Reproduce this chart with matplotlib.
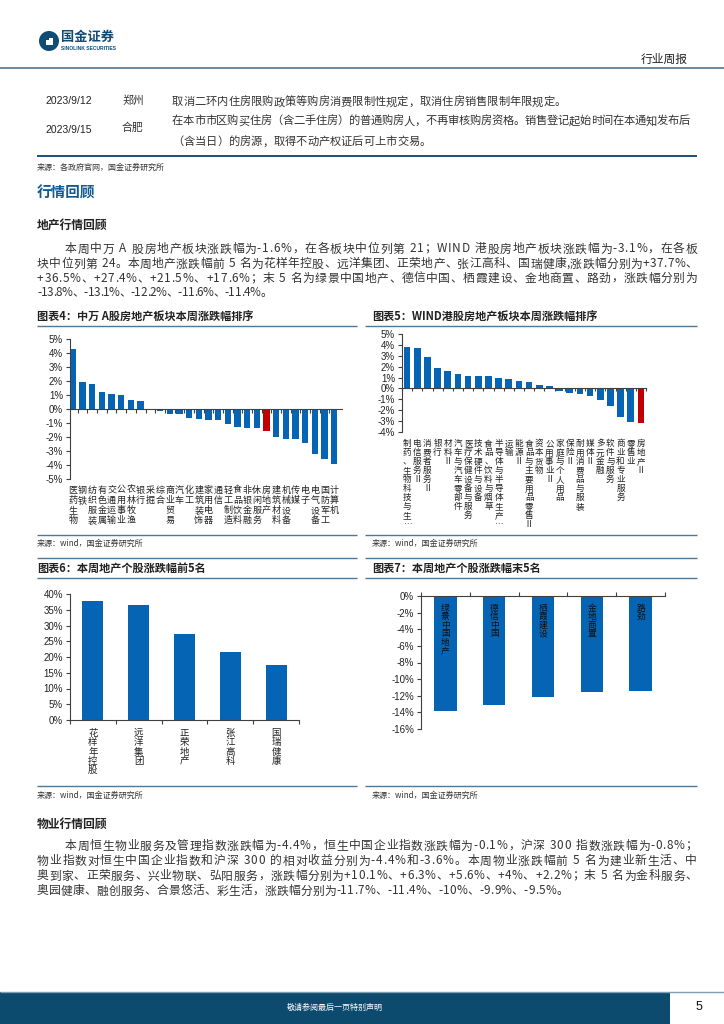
import matplotlib
matplotlib.use('Agg')
import matplotlib.pyplot as plt
from matplotlib.patches import Rectangle, Ellipse
from matplotlib.lines import Line2D
from matplotlib.transforms import blended_transform_factory
from matplotlib.font_manager import FontProperties
from matplotlib.ticker import FuncFormatter, MultipleLocator
import numpy as np

W, H = 724, 1024
CJK = ['Noto Sans CJK SC', 'DejaVu Sans']
LAT = ['Liberation Sans', 'DejaVu Sans']
plt.rcParams['font.family'] = CJK

# ---------------- data ----------------
a_sectors = ['医药生物', '钢铁', '纺织服装', '有色金属', '交通运输', '公用事业', '农林牧渔', '银行',
             '采掘', '综合', '商业贸易', '汽车', '化工', '建筑装饰', '家用电器', '通信', '轻工制造',
             '食品饮料', '非银金融', '休闲服务', '房地产', '建筑材料', '机械设备', '传媒', '电子',
             '电气设备', '国防军工', '计算机']
a_values = [4.3, 1.9, 1.8, 1.25, 1.1, 1.0, 0.65, 0.6, 0.0, -0.12, -0.33, -0.33, -0.65, -0.72,
            -0.8, -0.8, -1.05, -1.3, -1.37, -1.37, -1.6, -2.0, -2.15, -2.15, -2.4, -3.2, -3.55, -3.95]
a_highlight = '房地产'

hk_sectors = ['制药、生物科技与生…', '电信服务Ⅱ', '消费者服务Ⅱ', '银行', '材料Ⅱ', '汽车与汽车零部件',
              '医疗保健设备与服务', '技术硬件与设备', '食品、饮料与烟草', '半导体与半导体生产…', '运输',
              '能源Ⅱ', '食品与主要用品零售Ⅱ', '资本货物', '公用事业Ⅱ', '家庭与个人用品', '保险Ⅱ',
              '耐用消费品与服装', '媒体Ⅱ', '多元金融', '软件与服务', '商业和专业服务', '零售业', '房地产Ⅱ']
hk_values = [3.85, 3.7, 2.85, 1.85, 1.6, 1.35, 1.1, 1.1, 1.1, 0.93, 0.84, 0.65, 0.62, 0.3, 0.22,
             -0.25, -0.45, -0.5, -0.72, -1.05, -1.6, -2.6, -3.05, -3.15]
hk_highlight = '房地产Ⅱ'

top5_names = ['花样年控股', '远洋集团', '正荣地产', '张江高科', '国瑞健康']
top5_values = [37.7, 36.5, 27.4, 21.5, 17.6]
bottom5_names = ['绿景中国地产', '德信中国', '栖霞建设', '金地商置', '路劲']
bottom5_values = [-13.8, -13.1, -12.2, -11.6, -11.4]

# ---------------- figure helpers ----------------
BLUE = '#0565B4'
RED = '#C00000'
NAVY = '#0F4C75'
LINEC = '#4F7898'
TXT = '#222222'
BODY = '#333333'

fig = plt.figure(figsize=(W / 100, H / 100), dpi=100)
fig.patch.set_facecolor('white')
renderer = fig.canvas.get_renderer()


def fx(x):
    return x / W


def fy(y):
    return 1 - y / H


def put(x, y, s, size=8, **kw):
    kw.setdefault('va', 'center')
    kw.setdefault('ha', 'left')
    kw.setdefault('color', TXT)
    return fig.text(fx(x), fy(y), s, fontsize=size, **kw)


def hline(y, x0, x1, color=LINEC, lw=1.0):
    fig.add_artist(Line2D([fx(x0), fx(x1)], [fy(y), fy(y)], transform=fig.transFigure,
                          color=color, lw=lw, solid_capstyle='butt'))


_adv = {}


def adv(c, fp):
    key = (c, fp.get_size_in_points(), fp.get_weight())
    if key in _adv:
        return _adv[key]
    if c == ' ':
        v = fp.get_size_in_points() * 100 / 72 * 0.3
    else:
        w1 = renderer.get_text_width_height_descent('本' + c + '本', fp, ismath=False)[0]
        w0 = renderer.get_text_width_height_descent('本本', fp, ismath=False)[0]
        v = w1 - w0
    _adv[key] = v
    return v


def text_line(x0, y, s, size=8, x1=None, color=BODY, weight='normal'):
    fp = FontProperties(family=CJK, size=size, weight=weight)
    chars = list(s)
    advs = [adv(c, fp) for c in chars]
    gap = 0 if x1 is None else (x1 - x0 - sum(advs)) / (len(chars) - 1)
    base = y + size * 100 / 72 * 0.38
    x = x0
    for c, a in zip(chars, advs):
        if c != ' ':
            fig.text(fx(x), fy(base), c, fontproperties=fp, color=color, ha='left', va='baseline')
        x += a + gap


def stacked(ax, labels, top_px, pitch, size, color=TXT):
    tr = blended_transform_factory(ax.transData, fig.transFigure)
    em = size * 100 / 72
    for i, lab in enumerate(labels):
        for k, ch in enumerate(lab):
            yb = top_px + k * pitch + 0.86 * em
            ax.text(i, fy(yb), ch, transform=tr, ha='center', va='baseline', fontsize=size,
                    color=color, clip_on=False)


def make_ax(l, t, r, b):
    return fig.add_axes([fx(l), fy(b), (r - l) / W, (b - t) / H])


pct = FuncFormatter(lambda v, p: f'{v:.0f}%')


def style_y(ax, step):
    ax.yaxis.set_major_locator(MultipleLocator(step))
    ax.yaxis.set_major_formatter(pct)
    ax.tick_params(axis='y', length=3, width=0.8, color='#404040', labelsize=7, pad=2,
                   labelcolor=TXT)
    for lb in ax.get_yticklabels():
        lb.set_fontfamily(LAT)
    ax.spines['left'].set_color('#404040')
    ax.spines['left'].set_linewidth(0.8)
    ax.spines['right'].set_visible(False)
    ax.set_facecolor('none')


# ---------------- header ----------------
fig.add_artist(Ellipse((fx(49), fy(41)), 20 / W, 20 / H, transform=fig.transFigure,
                       facecolor=NAVY, edgecolor='none'))
fig.add_artist(Rectangle((fx(46), fy(45)), 7 / W, 7 / H, transform=fig.transFigure,
                         facecolor='white', edgecolor='none'))
fig.add_artist(Rectangle((fx(46), fy(40)), 2.5 / W, 2.5 / H, transform=fig.transFigure,
                         facecolor=NAVY, edgecolor='none'))
put(61, 37, '国金证券', 9.5, weight='bold', color=NAVY)
put(61, 48.5, 'SINOLINK SECURITIES', 3.6, weight='bold', color=NAVY, family=LAT)
put(688, 59, '行业周报', 8.5, ha='right')
hline(67.5, 0, 724, color='#5F819C', lw=1.3)

# ---------------- policy table ----------------
put(45, 101, '2023/9/12', 7.5, family=LAT)
put(122, 101, '郑州', 7.8, color=BODY)
text_line(172, 101, '取消二环内住房限购政策等购房消费限制性规定，取消住房销售限制年限规定。', 8.1)
put(45, 130, '2023/9/15', 7.5, family=LAT)
put(122, 128, '合肥', 7.8, color=BODY)
text_line(172, 120, '在本市市区购买住房（含二手住房）的普通购房人，不再审核购房资格。销售登记起始时间在本通知发布后',
          8.1, x1=690)
text_line(172, 141, '（含当日）的房源，取得不动产权证后可上市交易。', 8.1)
hline(156, 37, 697, color='#1F4E79', lw=1.4)
put(37, 167, '来源：各政府官网，国金证券研究所', 5.8, color='#333333')

# ---------------- section text ----------------
put(37, 193, '行情回顾', 10.5, weight='bold', color='#12598F')
put(37, 226, '地产行情回顾', 8.5, weight='bold')
p1 = ['本周中万 A 股房地产板块涨跌幅为-1.6%，在各板块中位列第 21；WIND 港股房地产板块涨跌幅为-3.1%，在各板',
      '块中位列第 24。本周地产涨跌幅前 5 名为花样年控股、远洋集团、正荣地产、张江高科、国瑞健康,涨跌幅分别为+37.7%、',
      '+36.5%、+27.4%、+21.5%、+17.6%；末 5 名为绿景中国地产、德信中国、栖霞建设、金地商置、路劲，涨跌幅分别为',
      '-13.8%、-13.1%、-12.2%、-11.6%、-11.4%。']
p1y = [248, 263, 277.5, 292]
p1end = [697, 697, 697, 272]
for i, (s, y, e) in enumerate(zip(p1, p1y, p1end)):
    text_line(65 if i == 0 else 37, y, s, 8.5, x1=e)

put(37, 824, '物业行情回顾', 8.5, weight='bold')
p2 = ['本周恒生物业服务及管理指数涨跌幅为-4.4%，恒生中国企业指数涨跌幅为-0.1%，沪深 300 指数涨跌幅为-0.8%；',
      '物业指数对恒生中国企业指数和沪深 300 的相对收益分别为-4.4%和-3.6%。本周物业涨跌幅前 5 名为建业新生活、中',
      '奥到家、正荣服务、兴业物联、弘阳服务，涨跌幅分别为+10.1%、+6.3%、+5.6%、+4%、+2.2%；末 5 名为金科服务、',
      '奥园健康、融创服务、合景悠活、彩生活，涨跌幅分别为-11.7%、-11.4%、-10%、-9.9%、-9.5%。']
p2y = [845, 860, 875, 890]
p2end = [697, 697, 697, 568]
for i, (s, y, e) in enumerate(zip(p2, p2y, p2end)):
    text_line(65 if i == 0 else 37, y, s, 8.5, x1=e)

# ---------------- chart frames ----------------
put(37, 316, '图表4：中万 A股房地产板块本周涨跌幅排序', 8, weight='bold')
put(372, 316, '图表5：WIND港股房地产板块本周涨跌幅排序', 8, weight='bold')
put(37, 568, '图表6：本周地产个股涨跌幅前5名', 8, weight='bold')
put(372, 568, '图表7：本周地产个股涨跌幅末5名', 8, weight='bold')
for y in (325.5, 535, 557.5, 578, 786):
    hline(y, 37, 357)
    hline(y, 365, 697)
for y in (543, 795):
    put(37, y, '来源：wind，国金证券研究所', 5.8, color='#333333')
    put(372, y, '来源：wind，国金证券研究所', 5.8, color='#333333')

# ---------------- chart 4 ----------------
ax4 = make_ax(70, 339, 342, 479)
x4 = np.arange(len(a_sectors))
c4 = [RED if s == a_highlight else BLUE for s in a_sectors]
ax4.bar(x4, a_values, width=0.66, color=c4, zorder=2)
ax4.set_xlim(-0.3, len(a_sectors) - 0.2)
ax4.set_ylim(-5, 5)
style_y(ax4, 1)
ax4.spines['top'].set_visible(False)
ax4.spines['bottom'].set_position(('data', 0))
ax4.spines['bottom'].set_color('#404040')
ax4.spines['bottom'].set_linewidth(0.8)
ax4.set_xticks(x4[:-1] + 0.5)
ax4.set_xticklabels([])
ax4.tick_params(axis='x', length=3, width=0.8, color='#404040')
stacked(ax4, a_sectors, 485, 10.1, 6.5)

# ---------------- chart 5 ----------------
ax5 = make_ax(402, 334, 646, 432)
x5 = np.arange(len(hk_sectors))
c5 = [RED if s == hk_highlight else BLUE for s in hk_sectors]
ax5.bar(x5, hk_values, width=0.66, color=c5, zorder=2)
ax5.set_xlim(-0.5, len(hk_sectors) - 0.5)
ax5.set_ylim(-4, 5)
style_y(ax5, 1)
ax5.spines['top'].set_visible(False)
ax5.spines['bottom'].set_position(('data', 0))
ax5.spines['bottom'].set_color('#404040')
ax5.spines['bottom'].set_linewidth(0.8)
ax5.set_xticks(np.append(x5 - 0.5, x5[-1] + 0.5))
ax5.set_xticklabels([])
ax5.tick_params(axis='x', length=2, width=0.8, color='#404040')
stacked(ax5, hk_sectors, 439, 9.0, 6.2)

# ---------------- chart 6 ----------------
ax6 = make_ax(70, 594, 299, 720)
x6 = np.arange(len(top5_names))
ax6.bar(x6, top5_values, width=0.46, color=BLUE, zorder=2)
ax6.set_xlim(-0.5, len(top5_names) - 0.5)
ax6.set_ylim(0, 40)
style_y(ax6, 5)
ax6.spines['top'].set_visible(False)
ax6.spines['bottom'].set_color('#404040')
ax6.spines['bottom'].set_linewidth(0.8)
ax6.set_xticks(np.append(x6 - 0.5, x6[-1] + 0.5))
ax6.set_xticklabels([])
ax6.tick_params(axis='x', length=3, width=0.8, color='#404040')
stacked(ax6, top5_names, 728, 9.3, 6.8)

# ---------------- chart 7 ----------------
ax7 = make_ax(421, 596, 665, 729)
x7 = np.arange(len(bottom5_names))
ax7.bar(x7, bottom5_values, width=0.46, color=BLUE, zorder=2)
ax7.set_xlim(-0.5, len(bottom5_names) - 0.5)
ax7.set_ylim(-16, 0)
style_y(ax7, 2)
ax7.spines['bottom'].set_visible(False)
ax7.spines['top'].set_color('#404040')
ax7.spines['top'].set_linewidth(0.8)
ax7.xaxis.tick_top()
ax7.set_xticks(np.append(x7 - 0.5, x7[-1] + 0.5))
ax7.set_xticklabels([])
ax7.tick_params(axis='x', length=3, width=0.8, color='#404040')
stacked(ax7, bottom5_names, 603, 8.6, 6.3, color='#111111')

# ---------------- footer ----------------
fig.add_artist(Rectangle((0, 0), fx(670), 32 / H, transform=fig.transFigure,
                         facecolor='#0C4A6E', edgecolor='none'))
hline(991.5, 0, 724, color='#7F9DB3', lw=1.0)
put(335, 1007, '敬请参阅最后一页特别声明', 5.8, ha='center', color='white')
put(699, 1007, '5', 9, ha='center', family=LAT, color='#111111')

fig.savefig('out.png', dpi=100, facecolor='white')
